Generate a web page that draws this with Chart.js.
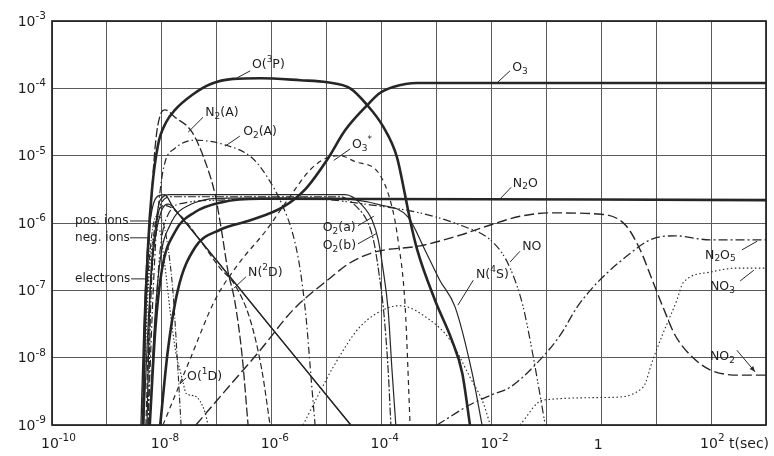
<!DOCTYPE html>
<html><head><meta charset="utf-8">
<script src="https://cdn.jsdelivr.net/npm/chart.js@4/dist/chart.umd.min.js"></script>
<style>html,body{margin:0;padding:0;background:#fff}</style>
</head><body>
<canvas id="c" width="774" height="456"></canvas>
<script>
// All values below are log10 exponents (t in s, relative concentration).
const xGridExp = [-10,-9,-8,-7,-6,-5,-4,-3,-2,-1,0,1,2,3];
const yGridExp = [-9,-8,-7,-6,-5,-4,-3];
const xTickExp = [-10,-8,-6,-4,-2,0,2];
const xTickText = ['10^{-10}','10^{-8}','10^{-6}','10^{-4}','10^{-2}','1','10^{2} t(sec)'];
const yTickExp = [-3,-4,-5,-6,-7,-8,-9];
const yTickText = ['10^{-3}','10^{-4}','10^{-5}','10^{-6}','10^{-7}','10^{-8}','10^{-9}'];

const o3pT = [-8.34,-8.31,-8.25,-8.18,-8.07,-7.92,-7.76,-7.45,-7.12,-6.70,-6.21,-5.48,-4.99,-4.57,-4.26,-3.97,-3.72,-3.57,-3.48,-3.35,-3.03,-2.72,-2.53,-2.39];
const o3pY = [-9,-7.59,-6.33,-5.51,-4.84,-4.50,-4.32,-4.10,-3.94,-3.86,-3.85,-3.88,-3.91,-4.00,-4.25,-4.57,-5.02,-5.59,-5.96,-6.40,-7.14,-7.74,-8.23,-9];
const o3T = [-8.03,-7.89,-7.71,-7.40,-6.94,-6.39,-5.79,-5.39,-4.99,-4.66,-4.26,-4.03,-3.79,-3.35,3.0];
const o3Y = [-9,-7.89,-7.00,-6.37,-6.10,-5.96,-5.76,-5.50,-5.06,-4.62,-4.25,-4.07,-3.98,-3.92,-3.92];
const n2oT = [-8.22,-8.12,-8.00,-7.76,-7.40,-6.90,-6.21,3.0];
const n2oY = [-9,-7.59,-6.70,-6.13,-5.84,-5.69,-5.64,-5.66];
const n2aT = [-8.34,-8.31,-8.25,-8.18,-8.11,-8.03,-7.94,-7.76,-7.45,-7.21,-7.03,-6.90,-6.80,-6.67,-6.54,-6.43];
const n2aY = [-9,-7.59,-6.55,-5.51,-4.77,-4.40,-4.32,-4.43,-4.65,-5.09,-5.58,-6.18,-6.70,-7.17,-7.96,-9];
const o2AT = [-8.25,-8.18,-8.11,-8.03,-7.94,-7.76,-7.40,-6.85,-6.36,-6.07,-5.81,-5.61,-5.48,-5.37,-5.28,-5.21];
const o2AY = [-9,-7.44,-6.25,-5.51,-5.09,-4.89,-4.77,-4.84,-5.03,-5.33,-5.73,-6.18,-6.70,-7.44,-8.33,-9];
const o3sT = [-7.98,-7.49,-7.03,-6.58,-6.12,-5.67,-5.30,-4.99,-4.76,-4.48,-4.06,-3.81,-3.70,-3.57,-3.48];
const o3sY = [-9,-8.03,-7.14,-6.58,-6.13,-5.61,-5.21,-5.03,-5.00,-5.09,-5.25,-5.76,-6.25,-7.24,-9];
const posT = [-8.38,-8.33,-8.27,-8.20,-8.10,-7.95,-7.80,-7.50,-7.00,-6.00,-5.00,-4.56];
const posY = [-9,-7.6,-6.5,-5.9,-5.62,-5.58,-5.76,-6.06,-6.56,-7.56,-8.56,-9];
const negT = [-8.33,-8.25,-8.15,-8.02,-7.88,-7.70,-7.50,-7.00,-6.00,-5.00,-4.56];
const negY = [-9,-7.5,-6.4,-5.85,-5.72,-5.86,-6.06,-6.56,-7.56,-8.56,-9];
const elecT = [-8.36,-8.30,-8.20,-8.10,-8.00,-7.90,-7.80,-7.72,-7.65];
const elecY = [-9,-7.5,-6.3,-5.9,-5.95,-6.3,-7.0,-8.0,-9];
const n2dT = [-8.29,-8.22,-8.11,-7.94,-7.67,-7.31,-6.94,-6.67,-6.39,-6.18,-6.03];
const n2dY = [-9,-7.14,-5.96,-5.74,-5.88,-6.25,-6.67,-6.92,-7.44,-8.18,-9];
const o1dT = [-8.35,-8.25,-8.15,-8.05,-7.95,-7.85,-7.75,-7.65,-7.61,-7.56,-7.40,-7.21,-7.16];
const o1dY = [-9,-7.0,-6.2,-6.1,-6.6,-7.3,-7.9,-8.25,-8.38,-8.53,-8.57,-8.82,-9];
const o2aT = [-8.27,-8.22,-8.12,-8.03,-7.85,-4.66,-4.36,-4.17,-4.06,-3.97,-3.88,-3.81,-3.74];
const o2aY = [-9,-7.14,-6.10,-5.66,-5.58,-5.58,-5.73,-5.96,-6.25,-6.70,-7.29,-8.18,-9];
const o2bT = [-8.25,-8.20,-8.11,-8.00,-7.82,-4.76,-4.43,-4.25,-4.14,-4.05,-3.96,-3.88,-3.83];
const o2bY = [-9,-7.14,-6.13,-5.69,-5.61,-5.61,-5.78,-5.99,-6.28,-6.73,-7.32,-8.18,-9];
const noT = [-8.22,-8.12,-8.03,-7.89,-7.58,-6.94,-5.48,-4.21,-3.30,-2.57,-2.02,-1.75,-1.57,-1.42,-1.26,-1.13,-1.02];
const noY = [-9,-7.44,-6.40,-5.88,-5.70,-5.66,-5.63,-5.73,-5.85,-6.03,-6.25,-6.52,-6.85,-7.25,-7.89,-8.48,-9];
const n4sT = [-8.22,-8.14,-8.03,-7.85,-7.49,-6.76,-4.94,-4.03,-3.52,-3.21,-2.94,-2.66,-2.35,-2.17];
const n4sY = [-9,-7.59,-6.55,-6.03,-5.73,-5.63,-5.63,-5.73,-5.91,-6.40,-6.85,-7.25,-8.23,-9];
const no2T = [-7.38,-6.76,-6.21,-5.61,-4.94,-4.57,-4.12,-3.30,-2.57,-2.02,-1.48,-0.93,0,0.44,0.71,0.93,1.13,1.34,1.62,1.98,2.53,3.0];
const no2Y = [-9,-8.41,-7.89,-7.29,-6.82,-6.59,-6.43,-6.34,-6.18,-6.03,-5.90,-5.85,-5.87,-6.03,-6.40,-6.85,-7.26,-7.66,-7.96,-8.18,-8.26,-8.26];
const n2o5T = [-2.99,-2.39,-2.02,-1.66,-1.17,-0.75,-0.44,-0.20,0.11,0.53,0.89,1.34,1.98,3.0];
const n2o5Y = [-9,-8.70,-8.56,-8.44,-8.08,-7.67,-7.25,-7.00,-6.74,-6.45,-6.25,-6.19,-6.25,-6.25];
const no3T = [-5.43,-4.88,-4.39,-3.85,-3.66,-3.12,-2.75,-2.39,-2.15,-2.02,-1.80,-1.48,-1.06,0.16,0.76,0.94,1.13,1.38,1.49,1.98,2.47,3.0];
const no3Y = [-9,-8.14,-7.54,-7.25,-7.23,-7.44,-7.74,-8.29,-8.67,-9,null,-9,-8.63,-8.59,-8.44,-8.03,-7.63,-7.14,-6.89,-6.73,-6.67,-6.67];

const P = v => Math.pow(10, v);
const pts = (ts, ys) => ts.map((t, i) => ({x: P(t), y: ys[i] === null ? null : P(ys[i])}));
const INK = '#262626';
const mk = (t, y, w, dash) => ({data: pts(t, y), borderColor: INK, borderWidth: w, borderDash: dash, fill: false, pointRadius: 0});

const datasets = [
  mk(o3pT, o3pY, 2.6, []),
  mk(o3T, o3Y, 2.6, []),
  mk(n2oT, n2oY, 2.6, []),
  mk(n2aT, n2aY, 1.3, [9,3]),
  mk(o2AT, o2AY, 1.2, [7,3,1.5,3]),
  mk(o3sT, o3sY, 1.2, [5,4]),
  mk(posT, posY, 1.3, []),
  mk(negT, negY, 1.2, []),
  mk(elecT, elecY, 1.1, [6,2,1,2]),
  mk(n2dT, n2dY, 1.2, [6,3]),
  mk(o1dT, o1dY, 1.1, [1.5,2]),
  mk(o2aT, o2aY, 1.2, []),
  mk(o2bT, o2bY, 1.2, [8,2,2,2]),
  mk(noT, noY, 1.2, [8,3,1.5,2,1.5,3]),
  mk(n4sT, n4sY, 1.2, []),
  mk(no2T, no2Y, 1.4, [10,4]),
  mk(n2o5T, n2o5Y, 1.3, [9,3,2,3]),
  mk(no3T, no3Y, 1.1, [1.5,2.5])
];

// species labels: text, label position (log t, log y), leader from/to (log t, log y)
const notes = [
  {s:'O(^{3}P)', p:[-6.36,-3.65], l:[-6.39,-3.74,-6.69,-3.87]},
  {s:'O_{3}', p:[-1.62,-3.70], l:[-1.66,-3.74,-1.90,-3.92]},
  {s:'N_{2}(A)', p:[-7.21,-4.37], l:[-7.25,-4.43,-7.52,-4.65]},
  {s:'O_{2}(A)', p:[-6.52,-4.65], l:[-6.58,-4.71,-6.85,-4.86]},
  {s:'O_{3}^{*}', p:[-4.54,-4.84], l:[-4.57,-4.90,-4.87,-5.07]},
  {s:'N_{2}O', p:[-1.61,-5.41], l:[-1.64,-5.47,-1.84,-5.64]},
  {s:'pos. ions', p:[-9.58,-5.97], l:[-8.58,-5.97,-8.20,-5.97], sz:12},
  {s:'neg. ions', p:[-9.58,-6.22], l:[-8.58,-6.22,-8.24,-6.22], sz:12},
  {s:'electrons', p:[-9.58,-6.83], l:[-8.56,-6.83,-8.27,-6.83], sz:12},
  {s:'N(^{2}D)', p:[-6.43,-6.74], l:[-6.47,-6.80,-6.69,-6.97]},
  {s:'O(^{1}D)', p:[-7.54,-8.29], l:[-7.56,-8.30,-7.67,-8.39]},
  {s:'O_{2}(a)', p:[-5.07,-6.07], l:[-4.43,-6.04,-4.14,-5.90]},
  {s:'O_{2}(b)', p:[-5.07,-6.34], l:[-4.43,-6.31,-4.08,-6.15]},
  {s:'NO', p:[-1.44,-6.36], l:[-1.48,-6.42,-1.66,-6.58]},
  {s:'N(^{4}S)', p:[-2.28,-6.77], l:[-2.33,-6.85,-2.61,-7.22]},
  {s:'N_{2}O_{5}', p:[1.89,-6.48], l:[2.56,-6.40,2.84,-6.27]},
  {s:'NO_{3}', p:[1.98,-6.95], l:[2.53,-6.86,2.78,-6.70]},
  {s:'NO_{2}', p:[1.98,-7.99], l:[2.47,-7.89,2.80,-8.21], arrow:true}
];

const FONT = '"DejaVu Sans", sans-serif';
function parseRich(s) {
  const out = []; let i = 0, buf = '';
  while (i < s.length) {
    const c = s[i];
    if ((c === '^' || c === '_') && s[i+1] === '{') {
      if (buf) { out.push({t: buf, m: 0}); buf = ''; }
      const j = s.indexOf('}', i);
      out.push({t: s.slice(i+2, j), m: c === '^' ? 1 : -1});
      i = j + 1;
    } else { buf += c; i++; }
  }
  if (buf) out.push({t: buf, m: 0});
  return out;
}
function drawRich(ctx, s, x, y, size, align, supSize) {
  const parts = parseRich(s);
  const ss = supSize || size * 0.72;
  let w = 0;
  parts.forEach(p => { ctx.font = (p.m ? ss : size) + 'px ' + FONT; p.w = ctx.measureText(p.t).width; w += p.w; });
  let cx = align === 'center' ? x - w / 2 : align === 'right' ? x - w : x;
  ctx.textBaseline = 'middle'; ctx.textAlign = 'left';
  parts.forEach(p => {
    ctx.font = (p.m ? ss : size) + 'px ' + FONT;
    const dy = p.m === 1 ? -size * 0.42 : p.m === -1 ? size * 0.3 : 0;
    ctx.fillText(p.t, cx, y + dy);
    cx += p.w;
  });
  return w;
}

const bg = {id: 'bg', beforeDraw(c) { const g = c.ctx; g.save(); g.fillStyle = '#fff'; g.fillRect(0, 0, c.width, c.height); g.restore(); }};
const deco = {
  id: 'deco',
  afterDraw(chart) {
    const {ctx, chartArea: a, scales: {x, y}} = chart;
    const X = v => x.getPixelForValue(P(v)), Y = v => y.getPixelForValue(P(v));
    ctx.save();
    ctx.strokeStyle = '#222'; ctx.lineWidth = 1.7;
    ctx.strokeRect(a.left, a.top, a.right - a.left, a.bottom - a.top);
    ctx.fillStyle = '#1e1e1e';
    xTickExp.forEach((e, i) => {
      const px = X(e);
      if (xTickText[i] === '1') drawRich(ctx, '1', px - 3, a.bottom + 20, 14, 'center');
      else drawRich(ctx, xTickText[i], px - 11, a.bottom + 19, 14, 'left', 10.5);
    });
    yTickExp.forEach((e, i) => drawRich(ctx, yTickText[i], a.left - 6, Y(e) + 1, 14, 'right', 10.5));
    ctx.strokeStyle = '#2a2a2a'; ctx.lineWidth = 1;
    notes.forEach(n => {
      ctx.fillStyle = '#1e1e1e';
      drawRich(ctx, n.s, X(n.p[0]), Y(n.p[1]), n.sz || 12.5, 'left', 9);
      const x1 = X(n.l[0]), y1 = Y(n.l[1]), x2 = X(n.l[2]), y2 = Y(n.l[3]);
      ctx.beginPath(); ctx.moveTo(x1, y1); ctx.lineTo(x2, y2); ctx.stroke();
      if (n.arrow) {
        const ang = Math.atan2(y2 - y1, x2 - x1);
        ctx.beginPath();
        ctx.moveTo(x2, y2);
        ctx.lineTo(x2 - 6 * Math.cos(ang - 0.4), y2 - 6 * Math.sin(ang - 0.4));
        ctx.lineTo(x2 - 6 * Math.cos(ang + 0.4), y2 - 6 * Math.sin(ang + 0.4));
        ctx.closePath(); ctx.fillStyle = '#2a2a2a'; ctx.fill();
      }
    });
    ctx.restore();
  }
};

new Chart(document.getElementById('c').getContext('2d'), {
  type: 'line',
  data: {datasets},
  options: {
    responsive: false, animation: false, devicePixelRatio: 1,
    layout: {padding: {left: 52, top: 21, right: 8, bottom: 31}},
    plugins: {legend: {display: false}, tooltip: {enabled: false}},
    elements: {point: {radius: 0}, line: {cubicInterpolationMode: 'monotone', borderCapStyle: 'butt'}},
    scales: {
      x: {type: 'logarithmic', min: P(-10), max: P(3), ticks: {display: false},
          grid: {color: '#5a5a5a', lineWidth: 1, drawTicks: false}, border: {display: false},
          afterBuildTicks: s => { s.ticks = xGridExp.map(e => ({value: P(e)})); }},
      y: {type: 'logarithmic', min: P(-9), max: P(-3), ticks: {display: false},
          grid: {color: '#5a5a5a', lineWidth: 1, drawTicks: false}, border: {display: false},
          afterBuildTicks: s => { s.ticks = yGridExp.map(e => ({value: P(e)})); }}
    }
  },
  plugins: [bg, deco]
});
</script>
</body></html>
